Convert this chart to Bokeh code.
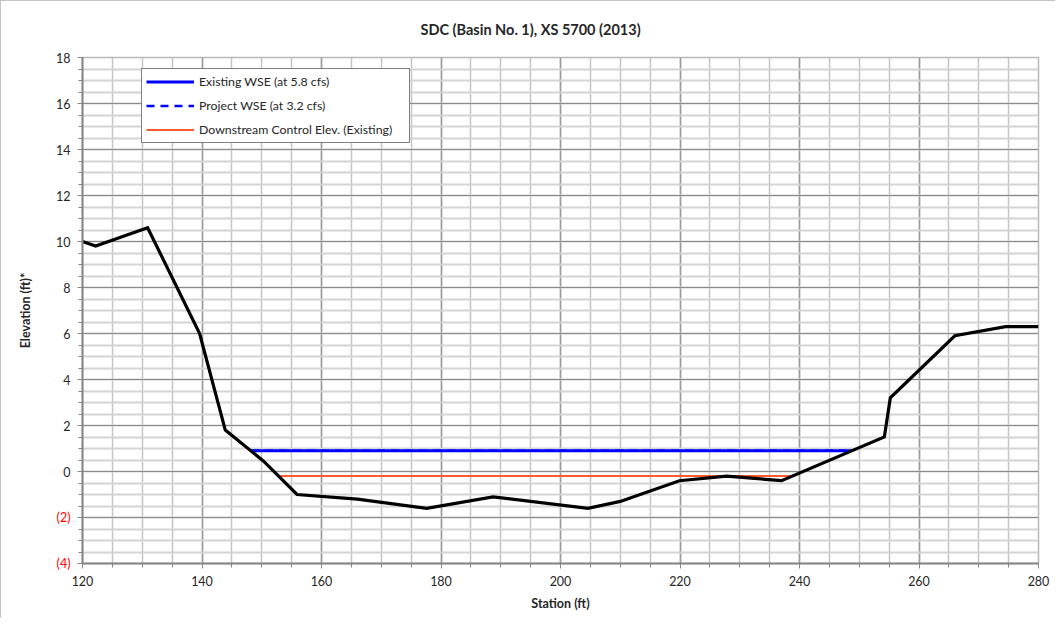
from bokeh.plotting import figure
from bokeh.models import (Range1d, SingleIntervalTicker, CustomJSTickFormatter, Label,
                          Legend, LegendItem)
from bokeh.embed import file_html
from bokeh.resources import INLINE

# ---- data ----
station = [120.0, 122.2, 130.9, 139.6, 143.9, 150.3, 155.9, 166.0, 177.6, 188.7,
           204.6, 210.0, 219.9, 227.8, 237.0, 254.2, 255.2, 266.0, 274.5, 280.0]
elevation = [10.0, 9.8, 10.6, 6.0, 1.8, 0.45, -1.0, -1.2, -1.6, -1.1,
             -1.6, -1.3, -0.4, -0.2, -0.4, 1.5, 3.2, 5.9, 6.3, 6.3]

existing_wse_x = [148.2, 248.8]
existing_wse_y = [0.9, 0.9]
project_wse_x = [148.2, 248.8]
project_wse_y = [0.9, 0.9]
control_x = [152.8, 238.8]
control_y = [-0.2, -0.2]

x_start, x_end = 120, 280
y_start, y_end = -4, 18
neg_ticks = [-2, -4]
neg_labels = ["(2)", "(4)"]

title_text = "SDC (Basin No. 1), XS 5700 (2013)"
FONT = "Lato"

p = figure(width=1055, height=618,
           x_range=Range1d(x_start, x_end), y_range=Range1d(y_start, y_end),
           output_backend="svg", toolbar_location=None,
           min_border_left=81, min_border_right=18, min_border_top=56, min_border_bottom=56)
p.styles = {"border-left": "1px solid #c4c4c4", "border-top": "1px solid #c4c4c4"}
p.background_fill_color = "white"
p.border_fill_color = "white"
p.outline_line_color = "#b8b8b8"
p.outline_line_width = 1.5

# title
p.title.text = title_text
p.title.align = "left"
p.title.offset = 338
p.title.vertical_align = "top"
p.title.text_font = FONT
p.title.text_font_size = "14.5px"
p.title.text_font_style = "bold"
p.title.text_color = "#262626"
p.title.standoff = 36

# tickers
xt = SingleIntervalTicker(interval=20, num_minor_ticks=4)
yt = SingleIntervalTicker(interval=2, num_minor_ticks=4)
p.xaxis.ticker = xt
p.yaxis.ticker = yt
p.xgrid.ticker = xt
p.ygrid.ticker = yt

p.yaxis.formatter = CustomJSTickFormatter(code="return tick < 0 ? '' : tick.toFixed(0);")

for ax in (p.xaxis[0], p.yaxis[0]):
    ax.axis_line_color = "#868686"
    ax.axis_line_width = 2
    ax.major_tick_line_color = "#868686"
    ax.minor_tick_line_color = "#868686"
    ax.major_tick_out = 5
    ax.major_tick_in = 0
    ax.minor_tick_out = 4
    ax.minor_tick_in = 0
    ax.major_label_text_font = FONT
    ax.major_label_text_font_size = "12.5px"
    ax.major_label_text_color = "#262626"
    ax.axis_label_text_font = FONT
    ax.axis_label_text_font_size = "12.5px"
    ax.axis_label_text_font_style = "bold"
    ax.axis_label_text_color = "#262626"
    ax.major_label_standoff = 7

p.xaxis.axis_label = "Station (ft)"
p.yaxis.axis_label = "Elevation (ft)*"
p.xaxis.axis_label_standoff = 7
p.yaxis.axis_label_standoff = 20

# grids
p.xgrid.grid_line_color = "#9a9a9a"
p.xgrid.grid_line_width = 1.5
p.xgrid.minor_grid_line_color = "#c4c4c4"
p.xgrid.minor_grid_line_width = 1.5
p.ygrid.grid_line_color = "#8a8a8a"
p.ygrid.grid_line_width = 1.2
p.ygrid.minor_grid_line_color = "#d4d4d4"
p.ygrid.minor_grid_line_width = 2

# negative tick labels in red; placed in side panels so they are not clipped to the frame,
# positioned through the plot's data scales
for (tv, tl), side in zip(zip(neg_ticks, neg_labels), ["left", "right"]):
    p.add_layout(Label(x=x_start, y=tv, text=tl, x_offset=-12,
                       text_align="right", text_baseline="middle",
                       text_font=FONT, text_font_size="12.5px", text_color="#ff0000"), side)

# series
r_proj = p.line(project_wse_x, project_wse_y, line_color="#0000ff", line_width=2.4, line_dash="8 6")
r_exist = p.line(existing_wse_x, existing_wse_y, line_color="#0000ff", line_width=3)
r_ctrl = p.line(control_x, control_y, line_color="#ff5a2e", line_width=2)
p.line(station, elevation, line_color="#000000", line_width=3.2, line_join="miter")

legend = Legend(items=[LegendItem(label="Existing WSE (at 5.8 cfs)", renderers=[r_exist]),
                       LegendItem(label="Project WSE (at 3.2 cfs)", renderers=[r_proj]),
                       LegendItem(label="Downstream Control Elev. (Existing)", renderers=[r_ctrl])],
                location=(59, 420), margin=0, padding=4, spacing=7,
                glyph_width=48, glyph_height=17, label_height=17, label_width=206, label_standoff=5,
                label_text_font=FONT, label_text_font_size="12.3px", label_text_color="#262626",
                border_line_color="#000000", border_line_width=1,
                background_fill_color="white", background_fill_alpha=1.0)
p.add_layout(legend)

open("out.html", "w").write(file_html(p, INLINE))
